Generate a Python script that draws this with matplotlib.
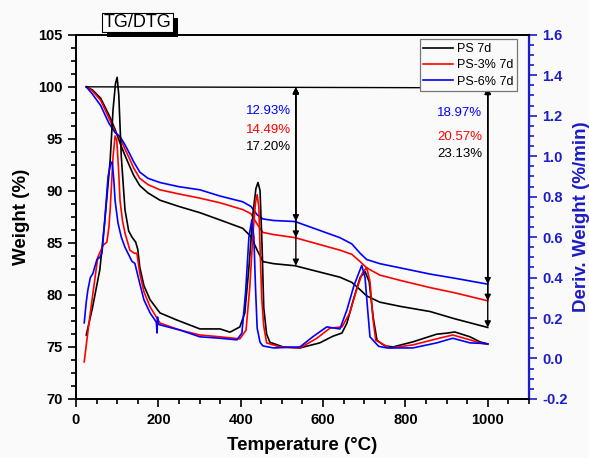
import matplotlib
matplotlib.use("Agg")
import matplotlib.pyplot as plt
from matplotlib.patches import Rectangle
from matplotlib.ticker import MultipleLocator, AutoMinorLocator

plt.rcParams["font.family"] = ["Liberation Sans", "DejaVu Sans"]

BLUE_AX = "#1c1cc8"

# TG curves (weight %)
tg_temp = [25, 40, 60, 80, 95, 107, 118, 130, 140, 155, 175, 204, 250, 301, 350, 405, 425, 440,
           454, 480, 532, 641, 670, 690, 706, 738, 787, 860, 920, 1000]
tg_ps = [100, 99.7, 98.9, 97.3, 95.9, 94.6, 93.5, 92.4, 91.5, 90.5, 89.8, 89.1, 88.5, 87.9, 87.2,
         86.4, 85.6, 84.3, 83.2, 83.0, 82.8, 81.7, 81.2, 80.5, 79.9, 79.3, 78.9, 78.4, 77.7, 76.87]
tg_ps3 = [100, 99.6, 98.7, 97.0, 95.7, 95.1, 94.1, 93.1, 92.2, 91.2, 90.6, 90.1, 89.7, 89.3, 88.85,
          88.2, 87.8, 86.8, 86.0, 85.8, 85.5, 84.3, 83.9, 83.2, 82.6, 81.9, 81.4, 80.7, 80.2, 79.43]
tg_ps6 = [100, 99.3, 98.2, 96.5, 95.6, 95.2, 94.5, 93.6, 92.8, 91.8, 91.2, 90.8, 90.4, 90.1, 89.5,
          88.95, 88.5, 87.7, 87.3, 87.15, 87.05, 85.5, 84.9, 84.0, 83.4, 83.0, 82.6, 82.0, 81.6, 81.03]

# DTG curves (%/min)
dtg_ps_t = [25, 40, 58, 70, 83, 90, 96, 100, 104, 110, 119, 128, 136, 145, 150, 155, 165, 180,
            204, 245, 301, 350, 374, 398, 410, 420, 430, 437, 442, 447, 452, 456, 463, 471, 503,
            544, 592, 624, 646, 658, 675, 690, 702, 712, 722, 731, 750, 770, 818, 876, 900, 920,
            957, 981, 1000]
dtg_ps = [0.116, 0.25, 0.44, 0.68, 0.98, 1.23, 1.36, 1.39, 1.30, 1.0, 0.735, 0.63, 0.60, 0.575,
          0.54, 0.45, 0.36, 0.29, 0.225, 0.19, 0.146, 0.146, 0.13, 0.156, 0.225, 0.45, 0.72, 0.84,
          0.87, 0.83, 0.55, 0.25, 0.12, 0.08, 0.057, 0.052, 0.077, 0.11, 0.126, 0.175, 0.30, 0.40,
          0.43, 0.38, 0.20, 0.09, 0.062, 0.057, 0.082, 0.12, 0.125, 0.131, 0.107, 0.082, 0.072]

dtg_ps3_t = [20, 30, 41, 53, 66, 75, 80, 83, 90, 95, 99, 103, 107, 113, 119, 131, 142, 148, 155,
             165, 180, 204, 253, 301, 350, 398, 413, 422, 430, 436, 440, 444, 447, 451, 456, 463,
             495, 544, 585, 617, 646, 665, 680, 695, 706, 714, 721, 728, 762, 818, 876, 915, 957,
             981, 1000]
dtg_ps3 = [-0.017, 0.15, 0.32, 0.50, 0.56, 0.575, 0.65, 0.735, 0.997, 1.10, 1.08, 0.95, 0.78, 0.68,
           0.62, 0.535, 0.52, 0.52, 0.42, 0.33, 0.255, 0.175, 0.14, 0.116, 0.107, 0.097, 0.14,
           0.35, 0.62, 0.77, 0.81, 0.75, 0.55, 0.30, 0.16, 0.077, 0.057, 0.052, 0.10, 0.15, 0.156,
           0.225, 0.33, 0.42, 0.45, 0.38, 0.20, 0.09, 0.052, 0.067, 0.097, 0.116, 0.092, 0.077, 0.07]

dtg_ps6_t = [20, 25, 29, 35, 41, 51, 58, 63, 70, 78, 85, 88, 92, 95, 102, 110, 119, 136, 143, 155,
             165, 180, 195, 197, 198, 200, 204, 253, 301, 350, 391, 403, 412, 420, 427, 432, 436,
             440, 447, 454, 480, 544, 575, 609, 641, 658, 675, 694, 702, 708, 714, 735, 755, 818,
             876, 915, 957, 981, 1000]
dtg_ps6 = [0.176, 0.28, 0.34, 0.40, 0.42, 0.49, 0.50, 0.52, 0.685, 0.90, 0.97, 0.97, 0.88, 0.78,
           0.67, 0.60, 0.55, 0.48, 0.47, 0.37, 0.29, 0.225, 0.18, 0.126, 0.205, 0.17, 0.166, 0.14,
           0.107, 0.10, 0.092, 0.126, 0.33, 0.60, 0.685, 0.60, 0.35, 0.15, 0.08, 0.062, 0.052,
           0.057, 0.107, 0.156, 0.146, 0.24, 0.36, 0.46, 0.40, 0.25, 0.107, 0.06, 0.052, 0.052,
           0.077, 0.10, 0.077, 0.075, 0.072]

labels = ["PS 7d", "PS-3% 7d", "PS-6% 7d"]
colors = ["black", "red", "blue"]

# mass-loss annotations: (temperature, levels, texts)
loss_mid_t = 534
loss_mid = [87.07, 85.51, 82.80]
loss_mid_txt = ["12.93%", "14.49%", "17.20%"]
loss_end_t = 1000
loss_end = [81.03, 79.43, 76.87]
loss_end_txt = ["18.97%", "20.57%", "23.13%"]

bg = "#fafafa"
fig = plt.figure(figsize=(5.89, 4.58), dpi=100, facecolor=bg)
ax = fig.add_axes([0.129, 0.129, 0.769, 0.795], facecolor=bg)
ax2 = ax.twinx()

for y, c in zip([tg_ps, tg_ps3, tg_ps6], colors):
    ax.plot(tg_temp, y, color=c, lw=1.2)

handles = []
for t, y, c, lab in zip([dtg_ps_t, dtg_ps3_t, dtg_ps6_t], [dtg_ps, dtg_ps3, dtg_ps6], colors, labels):
    h, = ax2.plot(t, y, color=c, lw=1.2, label=lab)
    handles.append(h)

# reference line at 100 %
ax.plot([25, 1000], [100, 99.9], color="black", lw=1)

arrow = dict(arrowstyle="<|-|>", color="black", lw=1, mutation_scale=9, shrinkA=0, shrinkB=0)
for lvl in loss_mid:
    ax.annotate("", xy=(loss_mid_t, lvl), xytext=(loss_mid_t, 99.95), arrowprops=arrow)
for lvl in loss_end:
    ax.annotate("", xy=(loss_end_t, lvl), xytext=(loss_end_t, 99.9), arrowprops=arrow)

text_y_mid = [97.7, 95.85, 94.2]
text_y_end = [97.5, 95.2, 93.55]
for txt, ty, c in zip(loss_mid_txt, text_y_mid, ["blue", "red", "black"]):
    ax.text(522, ty, txt, color=c, fontsize=9.5, ha="right", va="center")
for txt, ty, c in zip(loss_end_txt, text_y_end, ["blue", "red", "black"]):
    ax.text(986, ty, txt, color=c, fontsize=9.5, ha="right", va="center")

ax.set_xlim(0, 1100)
ax.set_ylim(70, 105)
ax2.set_ylim(-0.2, 1.6)

ax.xaxis.set_major_locator(MultipleLocator(200))
ax.xaxis.set_minor_locator(AutoMinorLocator(4))
ax.yaxis.set_major_locator(MultipleLocator(5))
ax.yaxis.set_minor_locator(AutoMinorLocator(4))
ax2.yaxis.set_major_locator(MultipleLocator(0.2))
ax2.yaxis.set_minor_locator(AutoMinorLocator(4))
ax2.set_yticks(ax2.get_yticks())
ax2.set_yticklabels([f"{v:.1f}" for v in ax2.get_yticks()])
ax2.set_ylim(-0.2, 1.6)

ax.tick_params(which="both", direction="out", width=1.2, labelsize=10.5)
ax.tick_params(which="major", length=6)
ax.tick_params(which="minor", length=3.5)
ax.tick_params(axis="x", pad=4)
ax2.tick_params(which="both", direction="out", width=1.2, colors=BLUE_AX, labelsize=10.5)
ax2.tick_params(which="major", length=6)
ax2.tick_params(which="minor", length=3.5)
for lab in ax.get_xticklabels() + ax.get_yticklabels():
    lab.set_fontweight("bold")
for lab in ax2.get_yticklabels():
    lab.set_fontweight("bold")

for s in ["left", "bottom", "top"]:
    ax.spines[s].set_linewidth(1.3)
    ax2.spines[s].set_linewidth(1.3)
ax2.spines["right"].set_color(BLUE_AX)
ax2.spines["right"].set_linewidth(1.6)

ax.set_xlabel("Temperature (°C)", fontsize=13.5, fontweight="bold", labelpad=7)
ax.set_ylabel("Weight (%)", fontsize=13.5, fontweight="bold", labelpad=6)
ax2.set_ylabel("Deriv. Weight (%/min)", fontsize=13.5, fontweight="bold", color=BLUE_AX, labelpad=4)

leg = ax2.legend(handles=handles, loc="upper right", bbox_to_anchor=(0.98, 0.995), fontsize=9,
                 frameon=True, fancybox=False, edgecolor="#777777", facecolor=bg, framealpha=1,
                 handlelength=2.4, handletextpad=0.3, borderpad=0.3, labelspacing=0.35,
                 borderaxespad=0.2)
leg.get_frame().set_linewidth(0.9)

# title box with drop shadow
fig.patches.append(Rectangle((0.1817, 0.9192), 0.1205, 0.0415, transform=fig.transFigure,
                             facecolor="black", edgecolor="none", zorder=5))
fig.patches.append(Rectangle((0.1732, 0.9301), 0.1205, 0.0415, transform=fig.transFigure,
                             facecolor="white", edgecolor="black", lw=0.8, zorder=6))
fig.text(0.2334, 0.9508, "TG/DTG", fontsize=13, ha="center", va="center", zorder=7)

fig.savefig("out.png", dpi=100, facecolor=bg)
